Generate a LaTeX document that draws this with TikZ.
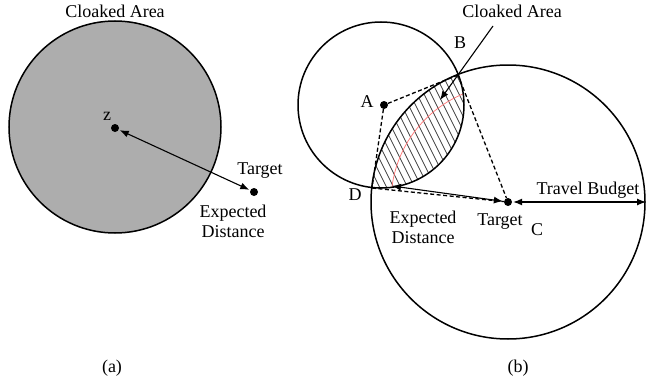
\documentclass[tikz,border=0pt]{standalone}
\usepackage{fontspec}
\setmainfont{Liberation Serif}
\usetikzlibrary{arrows.meta}

\begin{document}
\begin{tikzpicture}[
    x=1pt, y=-1pt,
    >={Latex[length=9pt,width=7pt]},
    every node/.style={font=\fontsize{18}{20}\selectfont},
    dot/.style={circle, fill=black, inner sep=0pt, minimum size=8pt},
    ring/.style={line width=1.5pt},
    guide/.style={dashed, line width=1.3pt, dash pattern=on 4pt off 2.5pt},
    hatch/.style={line width=0.7pt, black!75},
    lbl/.style={inner sep=1pt, align=center}
]
\useasboundingbox (0,0) rectangle (646,388);
% Circle centres and radii (in px of the reference)
\def\xA{381} \def\yA{105} \def\rA{83}
\def\xC{508} \def\yC{202} \def\rC{137}
% ---------- (a)
\fill[black!32] (115,127) circle (106);
\draw[ring] (115,127) circle (106);
\node[lbl] (cloakA) at (115,11) {Cloaked Area};
\node[dot] (z) at (115,128) {};
\node[lbl] (zlbl) at (107,116) {z};
\node[dot] (targetA) at (254,192) {};
\draw[<->, line width=1.1pt, shorten <=1pt, shorten >=1pt] (z) -- (targetA);
\node[lbl] (targetAlbl) at (260,171) {Target};
\node[lbl] (expA) at (233,221) {Expected\\Distance};
\node[lbl] (a) at (112,368) {(a)};
% ---------- (b)
% Hatched overlap (the cloaked area) and the red arc inside it
\begin{scope}
  \clip (\xA,\yA) circle (\rA);
  \clip (\xC,\yC) circle (\rC);
  \foreach \i in {250,257,...,470} {
    \draw[hatch] (\i,40) -- ++(90,180);
  }
  \draw[red!55, line width=0.7pt] (\xC,\yC) circle (117);
\end{scope}
\draw[ring] (\xA,\yA) circle (\rA);
\draw[ring] (\xC,\yC) circle (\rC);
% Points
\coordinate (B) at (458,75);
\coordinate (D) at (372,188);
\coordinate (E) at (392,186);
\coordinate (budget) at (646,202);
\coordinate (cloakTip) at (440,100);
\coordinate (cloakTail) at (493,26);
\node[dot] (A) at (384,105) {};
\node[dot] (target) at (\xC,\yC) {};
% Dashed construction lines
\draw[guide] (A) -- (B);
\draw[guide] (A) -- (D);
\draw[guide] (B) -- (target);
\draw[guide] (D) -- (target);
% Arrows
\draw[<->, line width=1.1pt, shorten >=1pt] (E) -- (target);
\draw[<->, line width=1.1pt, shorten <=1pt] (target) -- (budget);
\draw[->, line width=1.1pt] (cloakTail) -- (cloakTip);
% Labels
\node[lbl] (cloakB) at (512,11) {Cloaked Area};
\node[lbl] (Blbl) at (460,43) {B};
\node[lbl] (Albl) at (367,102) {A};
\node[lbl] (Dlbl) at (355,195) {D};
\node[lbl] (Clbl) at (537,230) {C};
\node[lbl] (targetlbl) at (500,222) {Target};
\node[lbl] (expB) at (423,227) {Expected\\Distance};
\node[lbl] (budgetlbl) at (588,190) {Travel Budget};
\node[lbl] (b) at (518,368) {(b)};
\end{tikzpicture}
\end{document}
